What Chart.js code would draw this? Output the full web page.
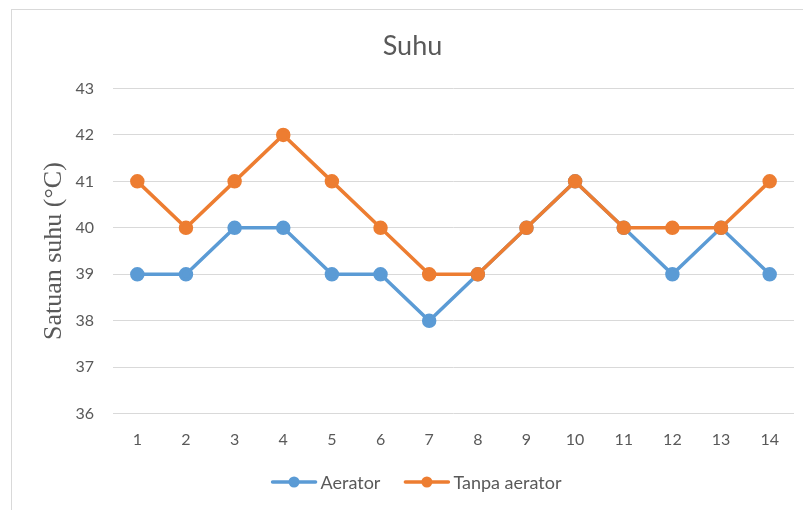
<!DOCTYPE html>
<html>
<head>
<meta charset="utf-8">
<script src="https://cdn.jsdelivr.net/npm/chart.js@4"></script>
<style>
  html,body{margin:0;padding:0;background:#fff;}
  #wrap{position:relative;width:803px;height:510px;overflow:hidden;}
  #frame{position:absolute;left:11px;top:9px;width:820px;height:520px;border-left:1px solid #d9d9d9;border-top:1px solid #d9d9d9;box-sizing:border-box;}
  canvas{position:absolute;left:0;top:0;}
</style>
</head>
<body>
<div id="wrap">
  <div id="frame"></div>
  <canvas id="c" width="803" height="510"></canvas>
</div>
<script>
const categories = ['1','2','3','4','5','6','7','8','9','10','11','12','13','14'];
const aerator = [39,39,40,40,39,39,38,39,40,41,40,39,40,39];
const tanpaAerator = [41,40,41,42,41,40,39,39,40,41,40,40,40,41];
const chartTitle = 'Suhu';
const yTitle = 'Satuan suhu (\u00B0C)';
const seriesNames = ['Aerator','Tanpa aerator'];

const BLUE = '#5B9BD5', ORANGE = '#ED7D31', TXT = '#595959';

// custom legend: line with a dot, then label
const lineLegend = {
  id: 'lineLegend',
  afterDraw(chart) {
    const ctx = chart.ctx;
    ctx.save();
    ctx.font = '18px Lato';
    ctx.textBaseline = 'middle';
    const iconW = 45, gap = 4, itemGap = 24;
    const items = chart.data.datasets.map(ds => ({label: ds.label, color: ds.borderColor, w: ctx.measureText(ds.label).width}));
    const total = items.reduce((s, it) => s + iconW + gap + it.w, 0) + itemGap * (items.length - 1);
    let x = chart.width / 2 + 15 - total / 2;
    const y = chart.height - 28;
    items.forEach(it => {
      ctx.strokeStyle = it.color; ctx.lineWidth = 3.5; ctx.lineCap = 'round';
      ctx.beginPath(); ctx.moveTo(x + 1, y); ctx.lineTo(x + iconW - 1, y); ctx.stroke();
      ctx.fillStyle = it.color;
      ctx.beginPath(); ctx.arc(x + iconW / 2, y, 5.5, 0, Math.PI * 2); ctx.fill();
      ctx.fillStyle = TXT;
      ctx.fillText(it.label, x + iconW + gap, y + 1);
      x += iconW + gap + it.w + itemGap;
    });
    ctx.restore();
  }
};

new Chart(document.getElementById('c'), {
  type: 'line',
  data: {
    labels: categories,
    datasets: [
      {label: seriesNames[0], data: aerator, borderColor: BLUE, backgroundColor: BLUE, order: 2,
       borderWidth: 3.5, pointRadius: 5.5, pointHoverRadius: 5.5, pointBackgroundColor: BLUE, pointBorderColor: BLUE, tension: 0},
      {label: seriesNames[1], data: tanpaAerator, borderColor: ORANGE, backgroundColor: ORANGE, order: 1,
       borderWidth: 3.5, pointRadius: 5.5, pointHoverRadius: 5.5, pointBackgroundColor: ORANGE, pointBorderColor: ORANGE, tension: 0}
    ]
  },
  plugins: [lineLegend],
  options: {
    responsive: false,
    animation: false,
    devicePixelRatio: 1,
    layout: {padding: {left: 30, right: 8, top: 26, bottom: 45}},
    plugins: {
      tooltip: {enabled: false},
      legend: {display: false},
      title: {display: true, text: chartTitle, color: TXT,
        font: {family: 'Lato', size: 27, weight: 'normal'}, padding: {top: 4, bottom: 26}}
    },
    scales: {
      x: {
        offset: true,
        grid: {display: false, drawTicks: false},
        border: {display: false},
        ticks: {color: TXT, font: {family: 'Lato', size: 16}, padding: 16}
      },
      y: {
        min: 36, max: 43,
        grid: {color: '#d9d9d9', lineWidth: 1, drawTicks: false},
        border: {display: false},
        ticks: {stepSize: 1, color: TXT, font: {family: 'Lato', size: 16}, padding: 19},
        title: {display: true, text: yTitle, color: TXT,
          font: {family: 'Liberation Serif', size: 26}, padding: {top: 9, bottom: 0}},
        afterFit(scale) { scale.width = 83; }
      }
    }
  }
});
</script>
</body>
</html>
